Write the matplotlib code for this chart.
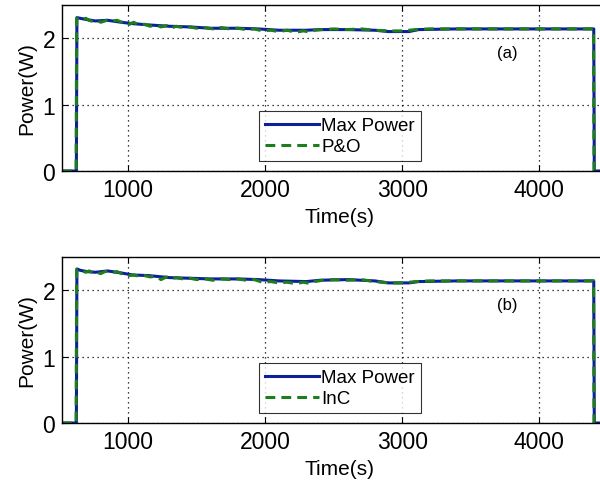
import matplotlib.pyplot as plt

# time axis (s) and power (W)
t_max = [517, 622, 626, 650, 700, 760, 850, 950, 1030, 1150,
         1300, 1450, 1600, 1800, 1950, 2100, 2300, 2400, 2600, 2800,
         2900, 3050, 3120, 3400, 3800, 4200, 4398, 4402, 4575]
t_track = [517, 620, 624, 640, 665, 690, 715, 745, 770, 800,
           830, 860, 890, 920, 950, 980, 1010, 1040, 1080, 1120,
           1160, 1200, 1240, 1280, 1310, 1350, 1400, 1450, 1500, 1560,
           1620, 1680, 1740, 1800, 1860, 1920, 1980, 2040, 2100, 2160,
           2220, 2280, 2330, 2360, 2420, 2500, 2600, 2700, 2800, 2900,
           3000, 3100, 3200, 3400, 3600, 3800, 4000, 4200, 4396, 4400,
           4575]

p_max_a = [0, 0, 2.31, 2.30, 2.28, 2.26, 2.27, 2.24, 2.22, 2.20,
           2.18, 2.17, 2.15, 2.15, 2.14, 2.12, 2.12, 2.13, 2.13, 2.12,
           2.10, 2.10, 2.13, 2.14, 2.14, 2.14, 2.14, 0, 0]
p_po = [0, 0, 2.30, 2.31, 2.28, 2.30, 2.27, 2.25, 2.27, 2.24,
        2.26, 2.28, 2.26, 2.27, 2.24, 2.25, 2.21, 2.24, 2.20, 2.21,
        2.18, 2.20, 2.17, 2.19, 2.15, 2.18, 2.16, 2.17, 2.15, 2.16,
        2.14, 2.16, 2.14, 2.15, 2.13, 2.14, 2.11, 2.12, 2.10, 2.12,
        2.09, 2.11, 2.09, 2.12, 2.13, 2.14, 2.13, 2.14, 2.12, 2.11,
        2.11, 2.13, 2.14, 2.14, 2.14, 2.14, 2.14, 2.14, 2.14, 0,
        0]

p_max_b = [0, 0, 2.32, 2.30, 2.28, 2.27, 2.29, 2.26, 2.23, 2.22,
           2.19, 2.18, 2.17, 2.17, 2.16, 2.14, 2.13, 2.15, 2.16, 2.14,
           2.11, 2.11, 2.13, 2.14, 2.14, 2.14, 2.14, 0, 0]
p_inc = [0, 0, 2.31, 2.32, 2.29, 2.27, 2.29, 2.26, 2.27, 2.25,
         2.28, 2.29, 2.27, 2.28, 2.25, 2.24, 2.22, 2.23, 2.21, 2.22,
         2.20, 2.21, 2.16, 2.20, 2.17, 2.19, 2.17, 2.18, 2.16, 2.17,
         2.15, 2.17, 2.16, 2.17, 2.15, 2.16, 2.12, 2.13, 2.11, 2.12,
         2.10, 2.12, 2.10, 2.13, 2.15, 2.16, 2.15, 2.16, 2.13, 2.11,
         2.11, 2.13, 2.14, 2.14, 2.14, 2.14, 2.14, 2.14, 2.14, 0,
         0]

x_ticks = [1000, 2000, 3000, 4000]
y_ticks = [0, 1, 2]

plt.rcParams['font.family'] = ['Liberation Sans', 'DejaVu Sans']

fig = plt.figure(figsize=(6.0, 4.81), dpi=100)
fig.patch.set_facecolor('white')


def draw_panel(ax, p_max, p_track, track_label, tag):
    ax.plot(t_max, p_max, color='#0d1f9a', lw=2.2, label='Max Power')
    ax.plot(t_track, p_track, color='#1e7d1e', lw=2.2, ls=(0, (3.2, 2.0)),
            label=track_label)
    ax.set_xlim(517, 4575)
    ax.set_ylim(0, 2.5)
    ax.set_xticks(x_ticks)
    ax.set_yticks(y_ticks)
    ax.grid(True, color='black', ls=(0, (1, 3)), lw=0.9)
    ax.tick_params(direction='in', length=4, width=0.8, labelsize=16.5,
                   top=True, right=True, pad=5)
    for s in ax.spines.values():
        s.set_linewidth(1.0)
    ax.set_xlabel('Time(s)', fontsize=15, labelpad=4)
    ax.set_ylabel('Power(W)', fontsize=15, labelpad=4)
    ax.text(3770, 1.78, tag, fontsize=12, ha='center', va='center')
    leg = ax.legend(loc='lower center', prop={'size': 13.5},
                    frameon=True, fancybox=False, edgecolor='black',
                    handlelength=2.9, handletextpad=0.1, borderpad=0.3,
                    labelspacing=0.2, borderaxespad=0.55)
    leg.get_frame().set_linewidth(0.8)


ax1 = fig.add_axes([0.1033, 0.6424, 0.9267, 0.3451])
draw_panel(ax1, p_max_a, p_po, 'P&O', '(a)')

ax2 = fig.add_axes([0.1033, 0.1185, 0.9267, 0.3451])
draw_panel(ax2, p_max_b, p_inc, 'InC', '(b)')

plt.savefig('out.png', dpi=100)
plt.close()
